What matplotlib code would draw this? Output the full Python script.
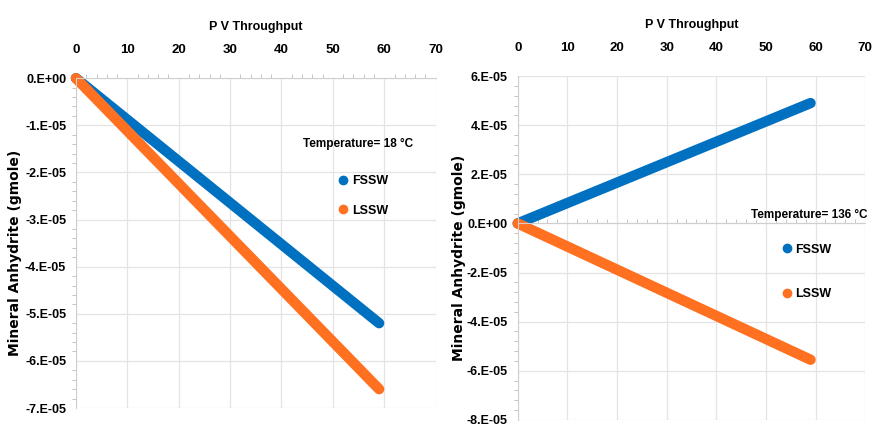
import numpy as np
import matplotlib
matplotlib.use("Agg")
import matplotlib.pyplot as plt
from matplotlib.ticker import FuncFormatter, MultipleLocator, AutoMinorLocator
from matplotlib.lines import Line2D

plt.rcParams['font.family'] = ['Liberation Sans', 'DejaVu Sans']

# data (PV throughput vs mineral anhydrite, gmole)
pv = [0, 59]
fssw_18 = [0.0, -5.2e-05]
lssw_18 = [0.0, -6.6e-05]
fssw_136 = [0.0, 4.9e-05]
lssw_136 = [0.0, -5.55e-05]

blue = "#0070c0"
orange = "#ff7020"


def sci_fmt(v, pos):
    if abs(v) < 1e-12:
        return "0.E+00"
    m = v / 1e-05
    return "%d.E-05" % round(m)


def setup(ax, ymin, ymax, ystep, temp_label, temp_xy, leg_xy, leg_space):
    ax.set_xlim(0, 70)
    ax.set_ylim(ymin, ymax)
    ax.xaxis.set_major_locator(MultipleLocator(10))
    ax.xaxis.set_minor_locator(AutoMinorLocator(5))
    ax.yaxis.set_major_locator(MultipleLocator(ystep))
    ax.yaxis.set_minor_locator(AutoMinorLocator(5))
    ax.yaxis.set_major_formatter(FuncFormatter(sci_fmt))
    ax.grid(True, which="major", color="#e4e4e4", linewidth=0.9)
    ax.set_axisbelow(True)
    for s in ["top", "right"]:
        ax.spines[s].set_visible(False)
    ax.spines["left"].set_color("#cfcfcf")
    ax.spines["bottom"].set_position(("data", 0))
    ax.spines["bottom"].set_color("#cfcfcf")
    ax.tick_params(axis="x", which="both", labelbottom=False, direction="in",
                   color="#bdbdbd", length=3)
    ax.tick_params(axis="x", which="major", length=0)
    ax.tick_params(axis="y", which="major", length=0, labelsize=9, pad=7)
    ax.tick_params(axis="y", which="minor", length=3, color="#bdbdbd", direction="out")
    for t in ax.get_yticklabels():
        t.set_fontweight("bold")
    sec = ax.secondary_xaxis("top")
    sec.xaxis.set_major_locator(MultipleLocator(10))
    sec.tick_params(length=0, labelsize=9.5, pad=16)
    for t in sec.get_xticklabels():
        t.set_fontweight("bold")
    sec.spines["top"].set_visible(False)
    sec.set_xlabel("P V Throughput", fontsize=9, fontweight="bold", labelpad=10)
    ax.set_ylabel("Mineral Anhydrite (gmole)", fontsize=10, fontweight="bold",
                  family="DejaVu Sans", labelpad=3)
    ax.yaxis.set_label_coords(-0.15, 0.47)
    ax.text(temp_xy[0], temp_xy[1], temp_label, transform=ax.transAxes,
            fontsize=8.5, fontweight="bold", ha="left", va="center")
    handles = [Line2D([], [], marker="o", linestyle="", color=blue, markersize=6),
               Line2D([], [], marker="o", linestyle="", color=orange, markersize=6)]
    ax.legend(handles, ["FSSW", "LSSW"], loc="upper left",
              bbox_to_anchor=leg_xy, frameon=False, handletextpad=0.1,
              labelspacing=leg_space, prop={"weight": "bold", "size": 9},
              handlelength=1.2)


fig = plt.figure(figsize=(8.73, 4.25), dpi=100)

ax1 = fig.add_axes([0.087, 0.04, 0.412, 0.776])
ax1.plot(pv, fssw_18, color=blue, linewidth=7.5, solid_capstyle="round", clip_on=False)
ax1.plot(pv, lssw_18, color=orange, linewidth=7.5, solid_capstyle="round", clip_on=False)
setup(ax1, -7e-05, 0.0, 1e-05, "Temperature= 18 \u00b0C", (0.63, 0.8),
      (0.69, 0.74), 1.4)

ax2 = fig.add_axes([0.593, 0.012, 0.398, 0.809])
ax2.plot(pv, fssw_136, color=blue, linewidth=7.5, solid_capstyle="round", clip_on=False)
ax2.plot(pv, lssw_136, color=orange, linewidth=7.5, solid_capstyle="round", clip_on=False)
setup(ax2, -8e-05, 6e-05, 2e-05, "Temperature= 136 \u00b0C", (0.672, 0.597),
      (0.72, 0.545), 2.6)

fig.savefig("out.png", dpi=100)
